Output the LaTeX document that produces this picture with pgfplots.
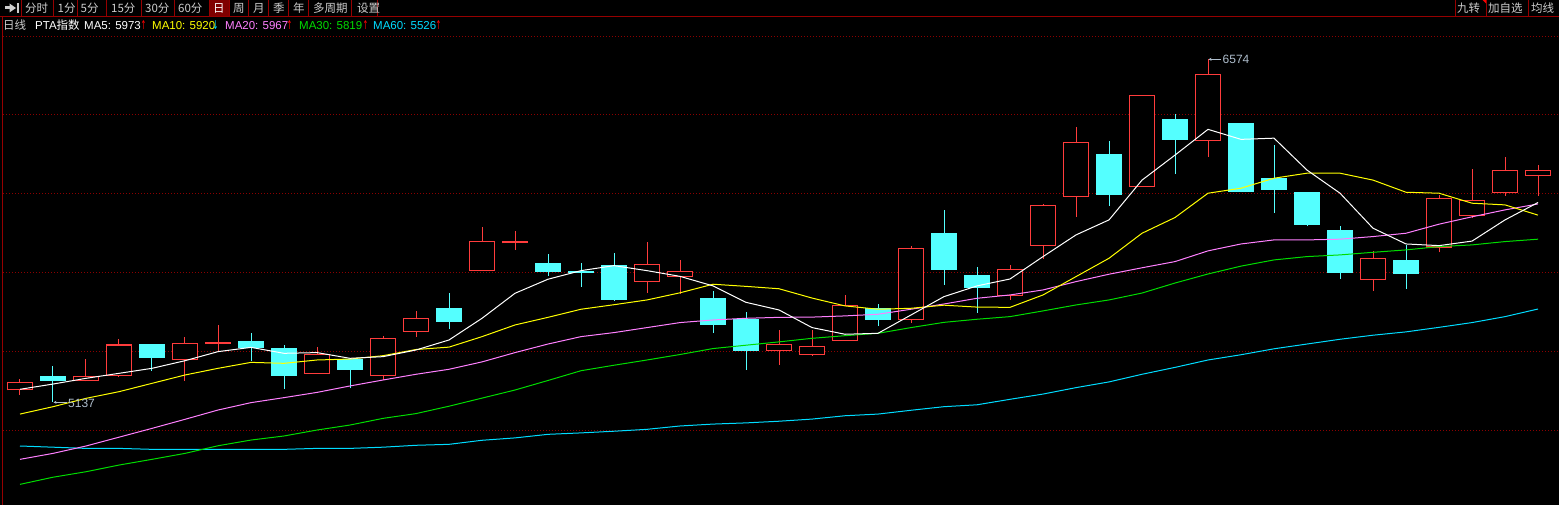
\documentclass[border=0pt]{standalone}
\usepackage{fontspec}
\setmainfont{Liberation Sans}
\newfontfamily\cjk{Noto Sans CJK SC}
\newfontfamily\sym{DejaVu Sans}
\usepackage{pgfplots}
\usepackage{pgfplotstable}
\pgfplotsset{compat=1.18}
\usetikzlibrary{arrows.meta}

\definecolor{kRed}{RGB}{255,60,60}
\definecolor{kCyan}{RGB}{84,255,255}
\definecolor{maYellow}{RGB}{255,255,0}
\definecolor{maPink}{RGB}{255,128,255}
\definecolor{maGreen}{RGB}{0,220,0}
\definecolor{maCyan}{RGB}{0,220,255}
\definecolor{gridRed}{RGB}{140,0,0}
\definecolor{barRed}{RGB}{150,0,0}
\definecolor{btnText}{RGB}{205,205,205}
\definecolor{noteGray}{RGB}{175,190,205}

% up days (red, hollow)
\pgfplotstableread{
x o h l c
1 5187 5232 5166 5218
3 5225 5316 5222 5244
4 5248 5400 5242 5375
6 5313 5409 5225 5382
7 5381 5459 5350 5383
10 5256 5366 5254 5336
12 5246 5413 5228 5403
13 5432 5518 5410 5487
15 5689 5870 5686 5810
16 5804 5853 5775 5807
20 5642 5807 5594 5714
21 5663 5732 5590 5684
24 5353 5438 5292 5378
25 5336 5438 5330 5370
26 5395 5585 5393 5542
28 5483 5790 5469 5781
31 5582 5711 5565 5693
32 5793 5967 5736 5961
33 5999 6290 5913 6226
35 6041 6424 6040 6423
37 6234 6574 6165 6511
42 5651 5770 5603 5739
44 5786 6005 5764 5991
45 5918 6114 5907 5982
46 6016 6164 6002 6108
47 6087 6130 6002 6108
}\updays

% down days (cyan, filled)
\pgfplotstableread{
x o h l c
2 5245 5287 5137 5224
5 5379 5381 5266 5322
8 5392 5425 5308 5362
9 5362 5375 5190 5246
11 5316 5318 5193 5271
14 5530 5593 5443 5473
17 5719 5757 5666 5683
18 5687 5719 5620 5677
19 5711 5761 5561 5564
22 5572 5602 5427 5460
23 5485 5513 5271 5351
27 5529 5547 5456 5481
29 5845 5942 5628 5691
30 5669 5702 5511 5615
34 6177 6231 5960 6006
36 6323 6344 6094 6237
38 6307 6308 6017 6018
39 6076 6214 5930 6027
40 6017 6018 5874 5880
41 5858 5874 5653 5678
43 5732 5796 5611 5674
}\downdays

% moving averages
\pgfplotstableread{
x ma5 ma10 ma20 ma30 ma60
1 5189 5085 4895 4790 4951
2 5211 5116 4920 4820 4946
3 5235 5151 4951 4843 4941
4 5256 5179 4988 4871 4941
5 5277 5214 5025 4895 4937
6 5309 5249 5063 4920 4937
7 5347 5277 5102 4952 4937
8 5365 5302 5133 4976 4937
9 5340 5298 5154 4993 4937
10 5343 5312 5176 5018 4941
11 5319 5316 5203 5039 4941
12 5326 5330 5228 5067 4946
13 5354 5356 5252 5087 4954
14 5396 5366 5273 5118 4958
15 5487 5410 5304 5152 4975
16 5592 5459 5343 5186 4985
17 5651 5491 5379 5226 5000
18 5687 5525 5410 5267 5006
19 5708 5544 5427 5290 5013
20 5687 5564 5448 5312 5021
21 5663 5594 5469 5335 5035
22 5623 5630 5480 5360 5043
23 5554 5621 5487 5374 5048
24 5522 5611 5491 5388 5055
25 5448 5572 5492 5403 5064
26 5420 5539 5497 5414 5078
27 5424 5525 5504 5424 5085
28 5501 5529 5525 5448 5101
29 5578 5542 5547 5470 5116
30 5623 5534 5571 5483 5124
31 5652 5533 5585 5494 5147
32 5746 5585 5606 5518 5169
33 5837 5662 5641 5543 5196
34 5900 5739 5672 5564 5220
35 6067 5844 5699 5593 5252
36 6172 5910 5725 5635 5281
37 6280 6012 5770 5673 5312
38 6238 6033 5799 5706 5334
39 6243 6075 5816 5732 5359
40 6109 6096 5816 5746 5379
41 6012 6096 5819 5753 5399
42 5865 6067 5830 5764 5416
43 5799 6016 5844 5774 5430
44 5792 6012 5882 5788 5449
45 5811 5970 5913 5795 5469
46 5900 5963 5942 5809 5494
47 5973 5920 5967 5819 5526
}\mas

\newcommand\tf{\fontsize{11.5bp}{12bp}\selectfont}
\newcommand\arr[1]{\scalebox{0.6}[1.05]{\sym #1}}

\begin{document}
\begin{tikzpicture}[x=1bp,y=1bp]
\fill[black] (0,0) rectangle (1559,505);

% price grid
\foreach \g in {75,154,233,312,391,469}
  \draw[gridRed, line width=0.8bp, dash pattern=on 1bp off 2bp] (3,\g) -- (1559,\g);
\draw[barRed, line width=1bp] (2,0) -- (2,488);

% toolbar
\fill[barRed!85!black] (209,489) rectangle (229,505);
\draw[barRed, line width=1bp] (0,488.5) -- (1559,488.5);
\foreach \s in {21,53,77.5,106,141,174,209,229,248,268,288,308,351,377,1455,1486,1528}
  \draw[barRed, line width=1bp] (\s,489) -- (\s,505);
\fill[btnText] (5,495.5) rectangle (10,498.5);
\fill[btnText] (9.5,492.5) -- (9.5,501.5) -- (16,497) -- cycle;
\fill[btnText] (16.7,492.3) rectangle (19,501.7);
\fill[red] (1482.7,505) -- (1486,505) -- (1486,501.7) -- cycle;
\begin{scope}[every node/.style={anchor=base west, inner sep=0pt, text=btnText, font=\cjk\tf}]
\node at (25,492.5) {分时};
\node at (57.5,492.5) {1分};
\node at (80.5,492.5) {5分};
\node at (111,492.5) {15分};
\node at (145,492.5) {30分};
\node at (178,492.5) {60分};
\node[text=white] at (213,492.5) {日};
\node at (233,492.5) {周};
\node at (253,492.5) {月};
\node at (273,492.5) {季};
\node at (293,492.5) {年};
\node at (313,492.5) {多周期};
\node at (357,492.5) {设置};
\node at (1457,492.5) {九转};
\node at (1488,492.5) {加自选};
\node at (1531,492.5) {均线};
\end{scope}

% info row
\begin{scope}[every node/.style={anchor=base west, inner sep=0pt, font=\tf}]
\node[text=btnText, font=\cjk\tf] at (3,475.5) {日线};
\node[text=white] at (35,475.5) {PTA{\cjk 指数}};
\node[text=white] at (84,475.5) {MA5: 5973};
\node[text=red] at (140.5,475.5) {\arr{↑}};
\node[text=maYellow] at (152,475.5) {MA10: 5920};
\node[text=maCyan] at (212.5,475.5) {\arr{↓}};
\node[text=maPink] at (225,475.5) {MA20: 5967};
\node[text=red] at (286.5,475.5) {\arr{↑}};
\node[text=maGreen] at (299,475.5) {MA30: 5819};
\node[text=red] at (362.5,475.5) {\arr{↑}};
\node[text=maCyan] at (373,475.5) {MA60: 5526};
\node[text=red] at (435.5,475.5) {\arr{↑}};
\end{scope}

\begin{axis}[at={(3bp,0bp)}, anchor=south west,
  x=33bp, y=0.238265bp,
  xmin=0.485, xmax=47.636, ymin=4703.4, ymax=6671.8,
  hide axis, clip=true]

% wicks
\addplot[draw=none, mark=none, error bars/.cd, y dir=plus, y explicit, error mark=none,
  error bar style={draw=kRed, line width=1bp}]
  table[x=x, y=l, y error expr=\thisrow{h}-\thisrow{l}] {\updays};
\addplot[draw=none, mark=none, error bars/.cd, y dir=plus, y explicit, error mark=none,
  error bar style={draw=kCyan, line width=1bp}]
  table[x=x, y=l, y error expr=\thisrow{h}-\thisrow{l}] {\downdays};

% bodies: red outline then black inside
\addplot[draw=none, mark=none, error bars/.cd, y dir=plus, y explicit, error mark=none,
  error bar style={draw=kRed, line width=26.5bp}]
  table[x=x, y expr=\thisrow{o}-2.5, y error expr=\thisrow{c}-\thisrow{o}+5] {\updays};
\addplot[draw=none, mark=none, error bars/.cd, y dir=plus, y explicit, error mark=none,
  error bar style={draw=black, line width=24.1bp}]
  table[x=x, y expr=\thisrow{o}+2.5, y error expr={max(\thisrow{c}-\thisrow{o}-5,0)}] {\updays};
\addplot[draw=none, mark=none, error bars/.cd, y dir=plus, y explicit, error mark=none,
  error bar style={draw=kCyan, line width=26.7bp}]
  table[x=x, y=c, y error expr=\thisrow{o}-\thisrow{c}] {\downdays};

% moving averages
\addplot[maCyan, line width=1bp] table[x=x, y=ma60] {\mas};
\addplot[maGreen, line width=1bp] table[x=x, y=ma30] {\mas};
\addplot[maPink, line width=1bp] table[x=x, y=ma20] {\mas};
\addplot[maYellow, line width=1bp] table[x=x, y=ma10] {\mas};
\addplot[white, line width=1bp] table[x=x, y=ma5] {\mas};
\end{axis}

% low / high notes
\draw[noteGray, line width=0.8bp, -{Stealth[length=3bp,width=3bp]}] (67,102.7) -- (53.5,102.7);
\node[anchor=base west, inner sep=0pt, text=noteGray, font=\fontsize{12bp}{12bp}\selectfont] at (68,97.7) {5137};
\draw[noteGray, line width=0.8bp, -{Stealth[length=3bp,width=3bp]}] (1221,445.7) -- (1208.5,445.7);
\node[anchor=base west, inner sep=0pt, text=noteGray, font=\fontsize{12bp}{12bp}\selectfont] at (1222.5,441) {6574};

\pgfresetboundingbox
\useasboundingbox (0,0) rectangle (1559,505);
\end{tikzpicture}
\end{document}
